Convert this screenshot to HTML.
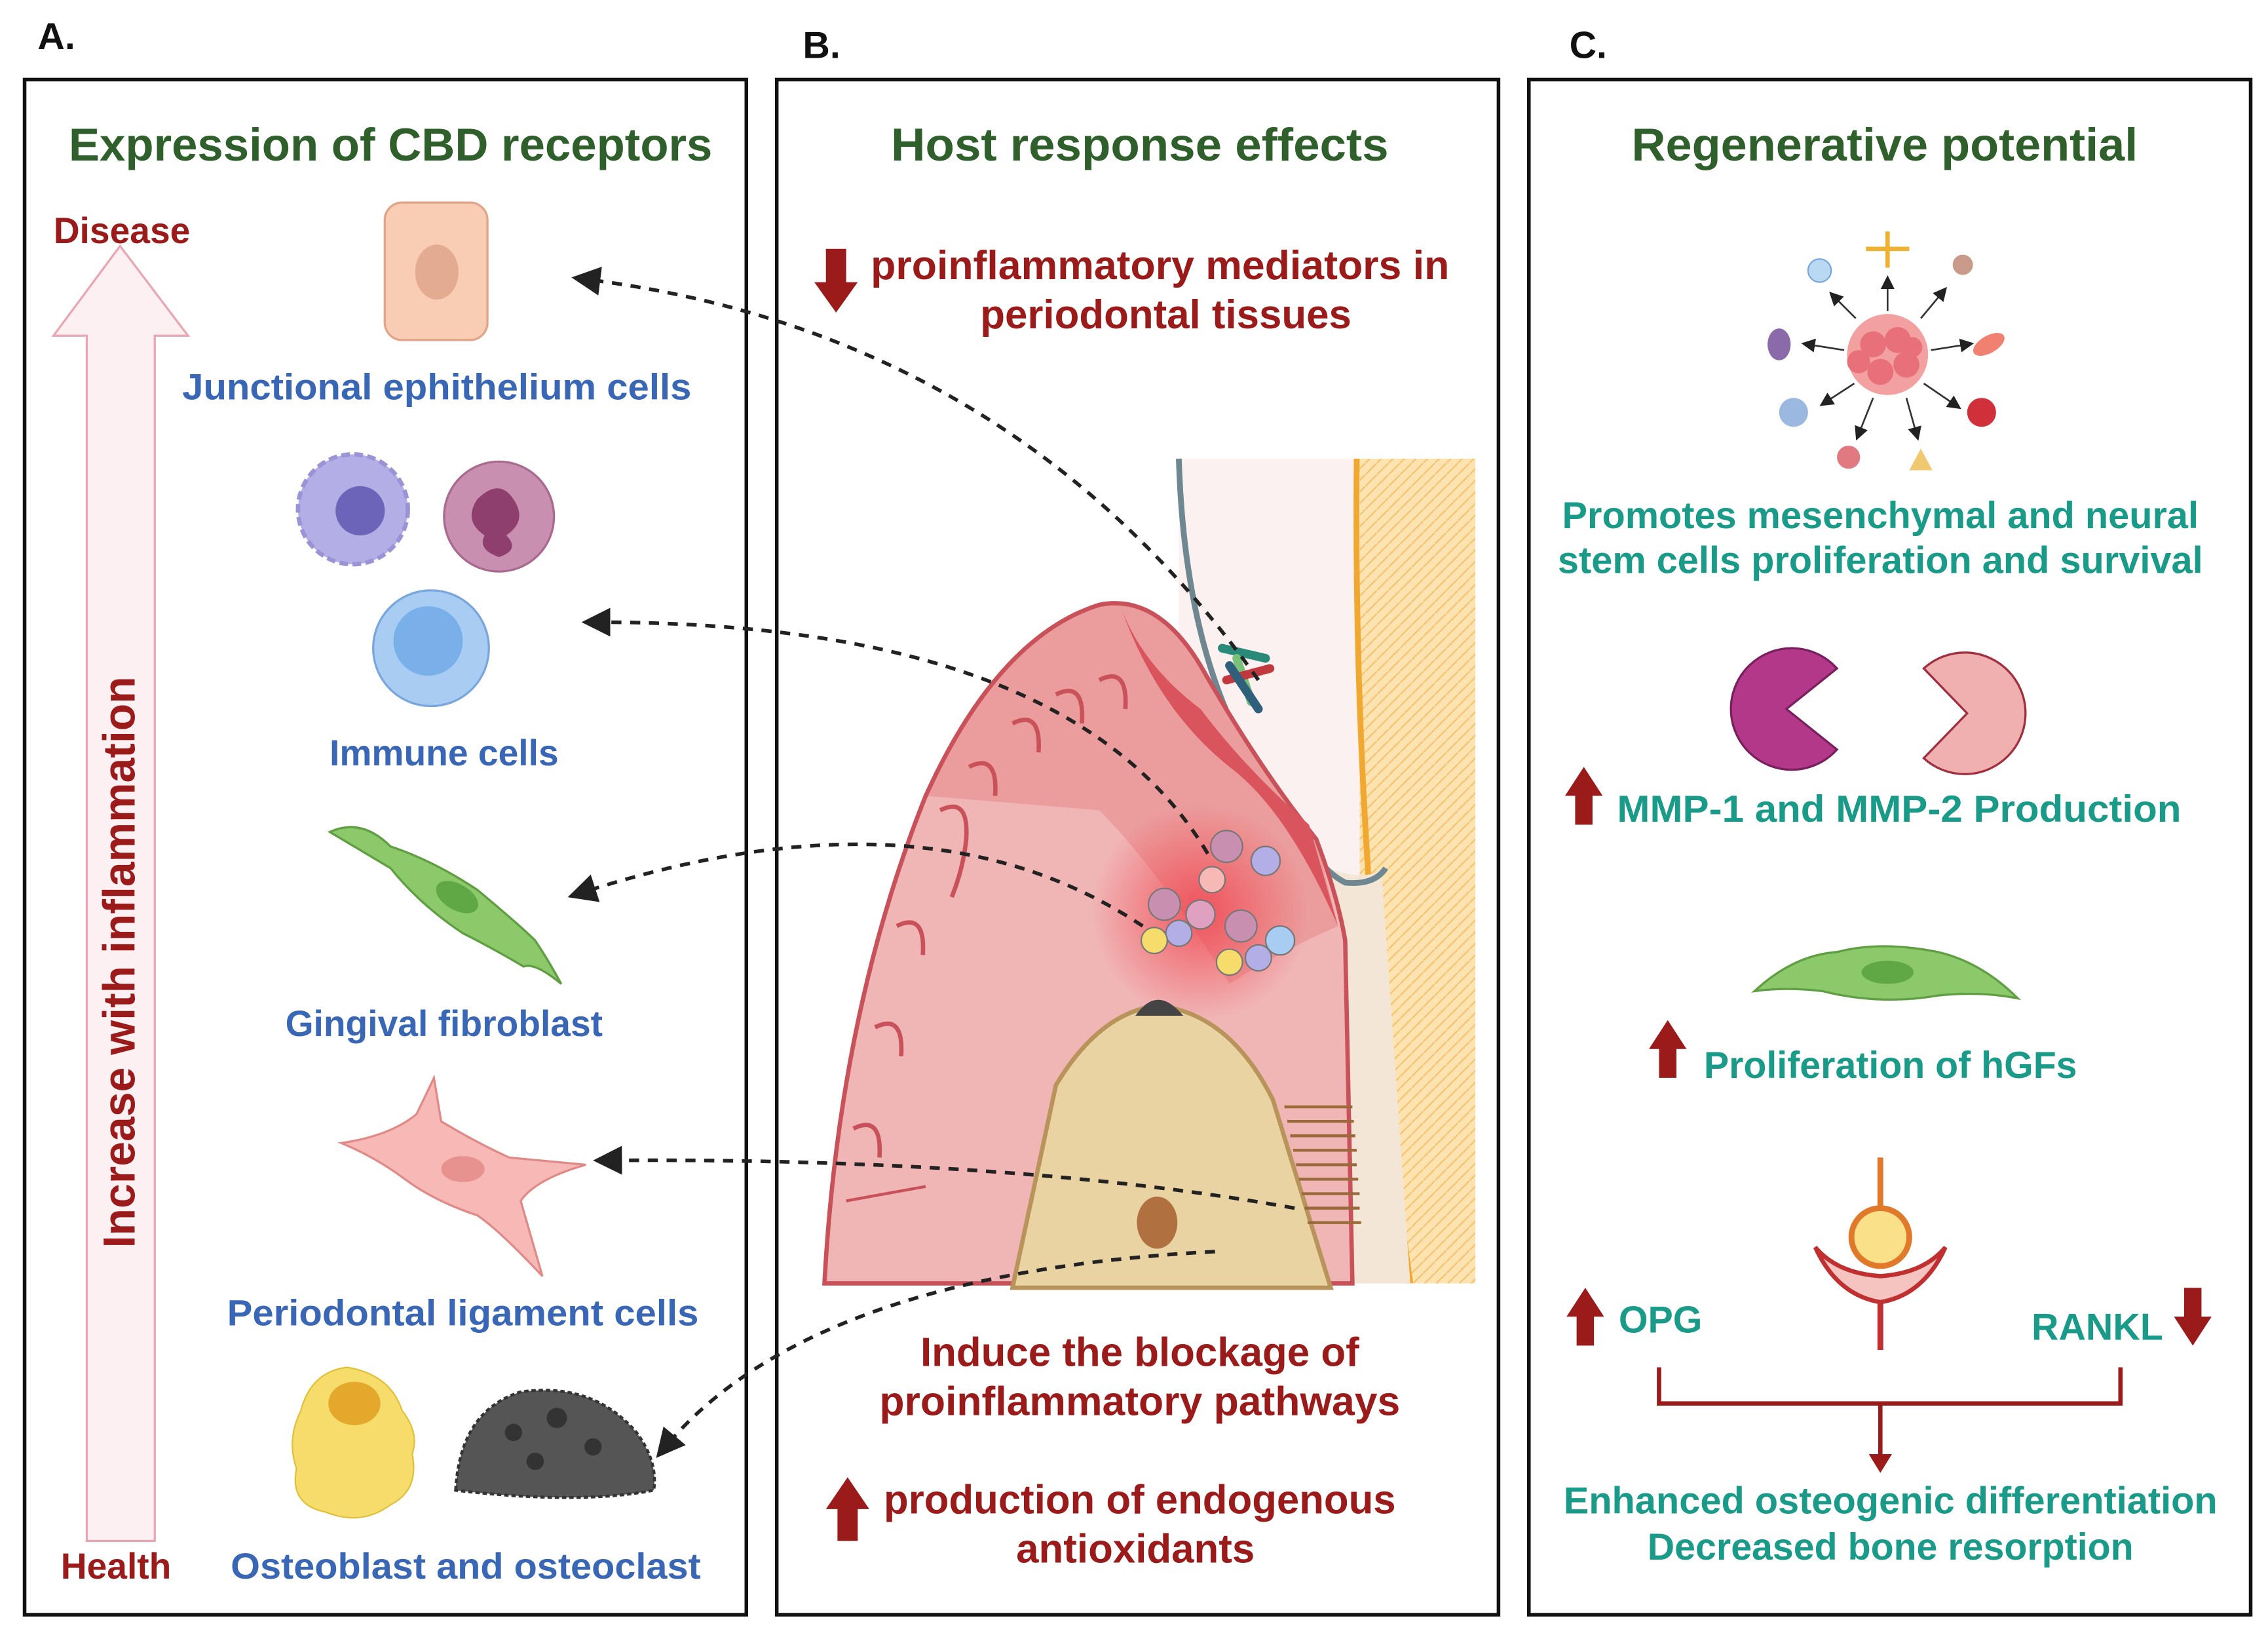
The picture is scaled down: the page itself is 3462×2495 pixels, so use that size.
<!DOCTYPE html>
<html><head><meta charset="utf-8"><style>
html,body{margin:0;padding:0;background:#fff;}
svg{display:block;}
text{font-family:"Liberation Sans",sans-serif;font-weight:bold;}
</style></head><body>
<svg width="3462" height="2495" viewBox="0 0 1568 1130" xmlns="http://www.w3.org/2000/svg">
<defs>
<radialGradient id="infl" cx="0.5" cy="0.5" r="0.5"><stop offset="0" stop-color="#f0454f" stop-opacity="0.85"/><stop offset="1" stop-color="#f0454f" stop-opacity="0"/></radialGradient>
<pattern id="stripes" width="8" height="8" patternUnits="userSpaceOnUse"><rect width="8" height="8" fill="#fde3b0"/><line x1="0" y1="8" x2="8" y2="0" stroke="#f5c272" stroke-width="1"/></pattern>
<marker id="ah" markerWidth="8" markerHeight="8" refX="4" refY="4" orient="auto"><path d="M0,0 L8,4 L0,8 z" fill="#222"/></marker>
</defs>
<rect width="1568" height="1130" fill="#fff"/>
<text x="26" y="34" font-size="26" fill="#111">A.</text>
<text x="555" y="40" font-size="26" fill="#111">B.</text>
<text x="1085" y="40" font-size="26" fill="#111">C.</text>
<rect x="17" y="55" width="499" height="1061" fill="none" stroke="#111" stroke-width="2.5"/>
<rect x="537" y="55" width="499" height="1061" fill="none" stroke="#111" stroke-width="2.5"/>
<rect x="1057" y="55" width="499" height="1061" fill="none" stroke="#111" stroke-width="2.5"/>
<g font-size="32" fill="#2f5f2a" text-anchor="middle">
<text x="270" y="111" textLength="445" lengthAdjust="spacingAndGlyphs">Expression of CBD receptors</text>
<text x="788" y="111" textLength="344" lengthAdjust="spacingAndGlyphs">Host response effects</text>
<text x="1303" y="111" textLength="350" lengthAdjust="spacingAndGlyphs">Regenerative potential</text>
</g>
<!-- Panel A -->
<path d="M60,1065 L60,232 L37,232 L83,170 L130,232 L107,232 L107,1065 Z" fill="#fdf0f3" stroke="#e8a7b5" stroke-width="1.5"/>
<text x="37" y="168" font-size="25" fill="#9b1b1b">Disease</text>
<text x="42" y="1091" font-size="25" fill="#9b1b1b">Health</text>
<text transform="translate(93,665) rotate(-90)" font-size="31" fill="#9b1b1b" text-anchor="middle" textLength="395" lengthAdjust="spacingAndGlyphs">Increase with inflammation</text>
<rect x="266" y="140" width="71" height="95" rx="12" fill="#f8cdb4" stroke="#e0a488" stroke-width="1.5"/>
<ellipse cx="302" cy="188" rx="15" ry="19" fill="#e3ab90"/>
<g font-size="25" fill="#3a67b5" text-anchor="middle">
<text x="302" y="276" textLength="352" lengthAdjust="spacingAndGlyphs">Junctional ephithelium cells</text>
<text x="307" y="529">Immune cells</text>
<text x="307" y="716">Gingival fibroblast</text>
<text x="320" y="916" textLength="326" lengthAdjust="spacingAndGlyphs">Periodontal ligament cells</text>
<text x="322" y="1091" textLength="325" lengthAdjust="spacingAndGlyphs">Osteoblast and osteoclast</text>
</g>
<circle cx="244" cy="352" r="38" fill="#b3aee6" stroke="#9a93d6" stroke-width="3" stroke-dasharray="6 3"/>
<circle cx="249" cy="353" r="17" fill="#6b64b8"/>
<circle cx="345" cy="357" r="38" fill="#c98fb0" stroke="#a86a8f" stroke-width="1.5"/>
<path d="M330,345 q15,-15 25,0 q10,15 -5,25 q10,10 -5,15 q-15,-5 -10,-15 q-15,-10 -5,-25z" fill="#8e3f6d"/>
<circle cx="298" cy="448" r="40" fill="#a9cdf2" stroke="#7aa6de" stroke-width="1.5"/>
<circle cx="296" cy="443" r="24" fill="#7ab0ea"/>
<path d="M228,575 Q250,565 270,585 Q300,595 330,615 Q360,640 370,650 Q380,665 388,680 Q370,665 362,668 Q340,655 320,645 Q290,625 270,600 Q250,588 228,575 Z" fill="#8cc96a" stroke="#5f9e42" stroke-width="1.5"/>
<ellipse cx="316" cy="620" rx="16" ry="9" fill="#5fa845" transform="rotate(30 316 620)"/>
<path d="M236,790 Q270,785 288,770 L300,745 L305,775 Q330,790 352,800 L405,805 Q370,815 360,830 L375,882 Q345,850 330,840 Q300,830 280,815 Q260,800 236,790 Z" fill="#f6b9b6" stroke="#e08a88" stroke-width="1.5"/>
<ellipse cx="320" cy="808" rx="15" ry="9" fill="#e8928f"/>
<path d="M208,975 Q215,948 240,945 Q270,950 278,975 Q290,990 285,1005 Q290,1030 270,1040 Q250,1055 225,1045 Q200,1040 205,1015 Q198,995 208,975 Z" fill="#f6dc6a" stroke="#e0bf3a" stroke-width="1"/>
<ellipse cx="245" cy="970" rx="18" ry="15" fill="#e4a92c"/>
<path d="M315,1030 Q318,975 360,962 Q410,955 440,990 Q455,1010 452,1030 Q400,1040 315,1030 Z" fill="#555" stroke="#333" stroke-width="2" stroke-dasharray="3 2"/>
<g fill="#333"><circle cx="355" cy="990" r="6"/><circle cx="385" cy="980" r="7"/><circle cx="410" cy="1000" r="6"/><circle cx="370" cy="1010" r="6"/></g>
<!-- Panel B text -->
<path d="M571,172 L585,172 L585,195 L593,195 L578,216 L563,195 L571,195 Z" fill="#9b1b1b"/>
<g font-size="28" fill="#9b1b1b" text-anchor="middle">
<text x="802" y="193" textLength="400" lengthAdjust="spacingAndGlyphs">proinflammatory mediators in</text>
<text x="806" y="227">periodontal tissues</text>
<text x="788" y="944">Induce the blockage of</text>
<text x="788" y="978" textLength="360" lengthAdjust="spacingAndGlyphs">proinflammatory pathways</text>
<text x="788" y="1046" textLength="354" lengthAdjust="spacingAndGlyphs">production of endogenous</text>
<text x="785" y="1080">antioxidants</text>
</g>
<path d="M579,1065 L593,1065 L593,1043 L601,1043 L586,1021 L571,1043 L579,1043 Z" fill="#9b1b1b"/>
<!-- Tissue illustration -->
<rect x="815" y="317" width="125" height="570" fill="#fbf1f1"/>
<rect x="940" y="317" width="80" height="570" fill="url(#stripes)"/>
<path d="M938,317 Q935,600 975,887" stroke="#f0a830" stroke-width="4" fill="none"/>
<path d="M918,600 Q945,610 955,600 L975,887 L920,887 Z" fill="#f3e6d6"/>
<path d="M815,317 Q820,480 890,560 Q910,600 930,610 Q950,612 958,600" stroke="#6e8790" stroke-width="4" fill="none"/>
<path d="M570,887 Q580,700 640,550 Q690,440 760,418 Q800,410 830,460 Q870,530 910,580 Q925,620 930,650 L935,887 Z" fill="#f0b5b5"/>
<path d="M640,550 Q690,440 760,418 Q800,410 830,460 Q870,530 910,580 L925,640 Q880,660 850,680 Q800,600 760,560 Z" fill="#e88d8d" opacity="0.6"/>
<path d="M570,887 Q580,700 640,550 Q690,440 760,418 Q800,410 830,460 Q870,530 910,580 Q925,620 930,650 L935,887 Z" fill="none" stroke="#c9525a" stroke-width="3"/>
<path d="M775,420 Q790,460 830,490 Q860,530 905,570 L925,640 Q890,560 850,530 Q800,490 775,420Z" fill="#d9545c"/>
<circle cx="830" cy="630" r="75" fill="url(#infl)"/>
<path d="M700,890 L730,750 Q760,700 800,695 Q850,700 880,760 L920,890 Z" fill="#ead3a3" stroke="#b8935a" stroke-width="3"/>
<ellipse cx="800" cy="845" rx="14" ry="18" fill="#b07040"/>
<path d="M785,702 Q800,680 818,702 Z" fill="#444"/>
<g stroke="#9a6a3a" stroke-width="2">
<line x1="888" y1="765" x2="935" y2="765"/><line x1="890" y1="775" x2="936" y2="775"/><line x1="892" y1="785" x2="937" y2="785"/><line x1="894" y1="795" x2="938" y2="795"/><line x1="896" y1="805" x2="938" y2="805"/><line x1="898" y1="815" x2="939" y2="815"/><line x1="900" y1="825" x2="940" y2="825"/><line x1="902" y1="835" x2="940" y2="835"/><line x1="904" y1="845" x2="941" y2="845"/>
</g>
<path d="M650,560 q20,-10 18,20 q-2,20 -10,40 M670,530 q20,-10 18,20 M700,500 q20,-10 18,20 M730,480 q20,-10 18,20 M760,470 q20,-10 18,20 M620,640 q20,-10 18,20 M605,710 q20,-10 18,20 M590,780 q20,-10 18,20" stroke="#c9525a" stroke-width="3" fill="none"/>
<line x1="585" y1="830" x2="640" y2="820" stroke="#c9525a" stroke-width="2"/>
<g stroke="#777" stroke-width="1">
<circle cx="848" cy="585" r="11" fill="#c98fb0"/><circle cx="875" cy="595" r="10" fill="#b3aee6"/>
<circle cx="805" cy="625" r="11" fill="#c98fb0"/><circle cx="830" cy="632" r="10" fill="#e0a0c0"/>
<circle cx="858" cy="640" r="11" fill="#c98fb0"/><circle cx="885" cy="650" r="10" fill="#a9cdf2"/>
<circle cx="815" cy="645" r="9" fill="#b3aee6"/><circle cx="798" cy="650" r="9" fill="#f6dc6a"/>
<circle cx="850" cy="665" r="9" fill="#f6dc6a"/><circle cx="870" cy="662" r="9" fill="#b3aee6"/>
<circle cx="838" cy="608" r="9" fill="#f6b9b6"/>
</g>
<g stroke-width="6" stroke-linecap="round">
<line x1="845" y1="448" x2="875" y2="455" stroke="#2a8a7a"/><line x1="855" y1="455" x2="865" y2="485" stroke="#7ac07a"/>
<line x1="848" y1="470" x2="878" y2="462" stroke="#c0393f"/><line x1="850" y1="460" x2="870" y2="490" stroke="#2f5f7a"/>
</g>
<!-- dashed connectors -->
<g stroke="#222" stroke-width="2.5" stroke-dasharray="7 6" fill="none" marker-end="url(#ah)">
<path d="M870,470 Q700,230 405,193"/>
<path d="M835,590 Q740,430 412,430"/>
<path d="M790,640 Q640,540 402,617"/>
<path d="M895,835 Q700,800 420,802"/>
<path d="M840,865 Q560,880 460,1000"/>
</g>
<!-- Panel C -->
<g>
<circle cx="1305" cy="245" r="28" fill="#f3a0a0"/>
<g fill="#e8707a"><circle cx="1295" cy="238" r="9"/><circle cx="1312" cy="235" r="9"/><circle cx="1318" cy="252" r="9"/><circle cx="1300" cy="257" r="9"/><circle cx="1285" cy="250" r="8"/><circle cx="1322" cy="240" r="7"/></g>
<g stroke="#333" stroke-width="1.2" marker-end="url(#ah)">
<line x1="1305" y1="215" x2="1305" y2="195"/><line x1="1283" y1="220" x2="1268" y2="205"/><line x1="1328" y1="220" x2="1343" y2="202"/>
<line x1="1275" y1="242" x2="1250" y2="238"/><line x1="1335" y1="242" x2="1360" y2="238"/>
<line x1="1282" y1="265" x2="1262" y2="278"/><line x1="1330" y1="265" x2="1352" y2="280"/>
<line x1="1295" y1="275" x2="1285" y2="300"/><line x1="1318" y1="275" x2="1325" y2="300"/>
</g>
<circle cx="1258" cy="187" r="8" fill="#b9d8f2" stroke="#7aa6de"/>
<path d="M1290,172 L1320,172 M1305,160 L1305,185" stroke="#f0b030" stroke-width="3"/>
<circle cx="1357" cy="183" r="7" fill="#c99a8a"/>
<ellipse cx="1230" cy="238" rx="8" ry="11" fill="#8a6aa8"/>
<ellipse cx="1375" cy="238" rx="12" ry="6" fill="#f08070" transform="rotate(-30 1375 238)"/>
<circle cx="1240" cy="285" r="10" fill="#9ab8e0"/>
<circle cx="1370" cy="285" r="10" fill="#d0303a"/>
<circle cx="1278" cy="316" r="8" fill="#e07a80"/>
<path d="M1320,325 L1328,310 L1336,325 Z" fill="#f0c870"/>
</g>
<g font-size="26" fill="#1a9a88" text-anchor="middle">
<text x="1300" y="365" textLength="440" lengthAdjust="spacingAndGlyphs">Promotes mesenchymal and neural</text>
<text x="1300" y="396" textLength="446" lengthAdjust="spacingAndGlyphs">stem cells proliferation and survival</text>
<text x="1313" y="568" textLength="390" lengthAdjust="spacingAndGlyphs">MMP-1 and MMP-2 Production</text>
<text x="1307" y="745" textLength="258" lengthAdjust="spacingAndGlyphs">Proliferation of hGFs</text>
<text x="1148" y="921">OPG</text>
<text x="1450" y="926">RANKL</text>
<text x="1307" y="1046" textLength="452" lengthAdjust="spacingAndGlyphs">Enhanced osteogenic differentiation</text>
<text x="1307" y="1078" textLength="336" lengthAdjust="spacingAndGlyphs">Decreased bone resorption</text>
</g>
<path d="M1235,490 L1270,462 A42,42 0 1 0 1270,518 Z" fill="#b3388a" stroke="#7a1f5e" stroke-width="1.5"/>
<path d="M1360,493 L1330,462 A42,42 0 1 1 1330,524 Z" fill="#f0b0b0" stroke="#a03040" stroke-width="1.5"/>
<path d="M1089,570 L1101,570 L1101,550 L1108,550 L1095,530 L1082,550 L1089,550 Z" fill="#9b1b1b"/>
<path d="M1147,745 L1159,745 L1159,725 L1166,725 L1153,705 L1140,725 L1147,725 Z" fill="#9b1b1b"/>
<path d="M1090,930 L1102,930 L1102,910 L1109,910 L1096,890 L1083,910 L1090,910 Z" fill="#9b1b1b"/>
<path d="M1510,890 L1522,890 L1522,910 L1529,910 L1516,930 L1503,910 L1510,910 Z" fill="#9b1b1b"/>
<path d="M1213,685 Q1240,660 1270,658 Q1300,650 1340,658 Q1370,665 1395,690 Q1370,685 1340,688 Q1300,695 1260,685 Q1235,682 1213,685 Z" fill="#8cc96a" stroke="#5f9e42" stroke-width="1.5"/>
<ellipse cx="1305" cy="672" rx="18" ry="8" fill="#5fa845"/>
<line x1="1300" y1="800" x2="1300" y2="835" stroke="#e07a2a" stroke-width="4"/>
<circle cx="1300" cy="855" r="20" fill="#fbe08a" stroke="#e07a2a" stroke-width="4"/>
<path d="M1255,862 Q1270,895 1300,900 Q1330,895 1345,862 Q1330,880 1300,882 Q1270,880 1255,862 Z" fill="#f6c4c0" stroke="#c03030" stroke-width="3"/>
<line x1="1300" y1="900" x2="1300" y2="933" stroke="#c03030" stroke-width="4"/>
<path d="M1147,945 L1147,970 L1466,970 L1466,945 M1300,970 L1300,1008" stroke="#9b1b1b" stroke-width="3" fill="none"/>
<path d="M1292,1005 L1308,1005 L1300,1018 Z" fill="#9b1b1b"/>
</svg>
</body></html>
